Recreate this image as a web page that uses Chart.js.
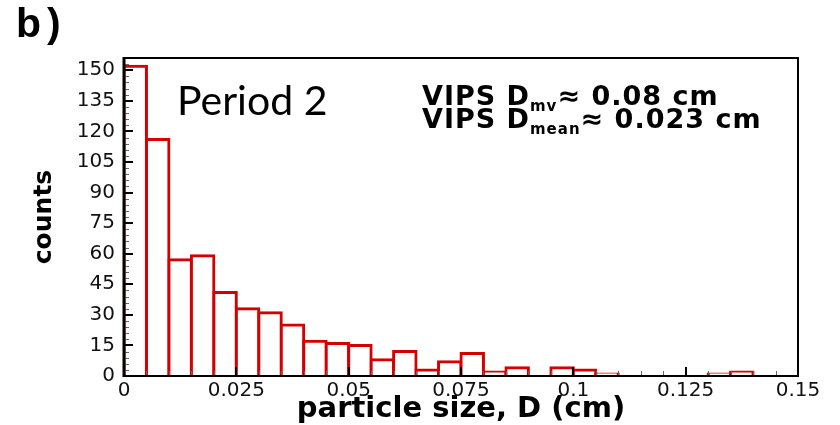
<!DOCTYPE html>
<html>
<head>
<meta charset="utf-8">
<title>Particle size histogram - Period 2</title>
<script src="https://cdn.jsdelivr.net/npm/chart.js@4.4.1/dist/chart.umd.min.js"></script>
<style>
  html, body { margin: 0; padding: 0; background: #fff; }
  #wrap { width: 840px; height: 425px; position: relative; }
</style>
</head>
<body>
<div id="wrap"><canvas id="histChart"></canvas></div>
<script>
// VIPS particle size distribution, period 2 (bins of 0.005 cm)
const binCenters = [0.0025, 0.0075, 0.0125, 0.0175, 0.0225, 0.0275, 0.0325, 0.0375, 0.0425, 0.0475,
                    0.0525, 0.0575, 0.0625, 0.0675, 0.0725, 0.0775, 0.0825, 0.0875, 0.0925, 0.0975,
                    0.1025, 0.1075, 0.1125, 0.1175, 0.1225, 0.1275, 0.1325, 0.1375, 0.1425, 0.1475];
const counts = [152, 116, 57, 59, 41, 33, 31, 25, 17, 16,
                15, 8, 12, 3, 7, 11, 2, 4, 0, 4,
                3, 1, 0, 0, 0, 0, 1, 2, 0, 0];

const xTickValues = [0, 0.025, 0.05, 0.075, 0.1, 0.125, 0.15];
const xTickLabels = ['0', '0.025', '0.05', '0.075', '0.1', '0.125', '0.15'];
const yTickValues = [0, 15, 30, 45, 60, 75, 90, 105, 120, 135, 150];
const yTickLabels = ['0', '15', '30', '45', '60', '75', '90', '105', '120', '135', '150'];

const RED = '#d40000';
const TICK_FONT = { family: 'DejaVu Sans', size: 20 };
const TITLE_FAMILY = 'DejaVu Sans';

// frame, inward tick marks and the text labels on the plot
const framePlugin = {
    id: 'frame',
    afterDatasetsDraw(chart) {
        const { ctx, chartArea: a, scales: { x, y } } = chart;
        ctx.save();

        function seg(x1, y1, x2, y2) {
            ctx.beginPath();
            ctx.moveTo(x1, y1);
            ctx.lineTo(x2, y2);
            ctx.stroke();
        }

        // minor ticks
        ctx.strokeStyle = '#666';
        ctx.lineWidth = 1;
        for (let v = 3; v < y.max; v += 3) {
            if (v % 15 === 0) continue;
            const py = Math.round(y.getPixelForValue(v)) + 0.5;
            seg(a.left, py, a.left + 5, py);
        }
        for (let i = 1; i < 30; i++) {
            if (i % 5 === 0) continue;
            const px = Math.round(x.getPixelForValue(i * 0.005)) + 0.5;
            seg(px, a.bottom, px, a.bottom - 5);
        }

        // major ticks
        ctx.strokeStyle = '#000';
        ctx.lineWidth = 2;
        yTickValues.forEach(v => {
            const py = Math.round(y.getPixelForValue(v));
            seg(a.left, py, a.left + 9, py);
        });
        xTickValues.forEach(v => {
            const px = Math.round(x.getPixelForValue(v));
            seg(px, a.bottom, px, a.bottom - 9);
        });

        // box
        ctx.lineWidth = 2;
        ctx.strokeRect(a.left, a.top, a.right - a.left, a.bottom - a.top);
        ctx.lineWidth = 3;
        seg(a.left, a.top - 1, a.left, a.bottom + 1);
        ctx.restore();
    },
    afterDraw(chart) {
        const { ctx } = chart;
        ctx.save();
        ctx.fillStyle = '#000';
        ctx.textBaseline = 'alphabetic';
        ctx.textAlign = 'left';

        ctx.font = 'bold 41px "Liberation Sans"';
        ctx.letterSpacing = '6px';
        ctx.fillText('b)', 16, 37);

        ctx.letterSpacing = '0px';
        ctx.font = '41px Lato';
        ctx.fillText('Period 2', 177, 115);

        // D with subscript, then the value
        function dLine(sub, value, baseline) {
            let cx = 422;
            ctx.letterSpacing = '1px';
            ctx.font = 'bold 27px "DejaVu Sans"';
            ctx.fillText('VIPS D', cx, baseline);
            cx += ctx.measureText('VIPS D').width;
            ctx.font = 'bold 15px "DejaVu Sans"';
            ctx.fillText(sub, cx, baseline + 6);
            cx += ctx.measureText(sub).width;
            ctx.font = 'bold 27px "DejaVu Sans"';
            ctx.fillText('\u2248 ' + value, cx, baseline);
        }
        dLine('mv', '0.08 cm', 105);
        dLine('mean', '0.023 cm', 128);
        ctx.restore();
    }
};

const ctx = document.getElementById('histChart');
new Chart(ctx, {
    type: 'bar',
    data: {
        datasets: [{
            data: binCenters.map((c, i) => ({ x: c, y: counts[i] })),
            backgroundColor: '#ffffff',
            borderColor: RED,
            borderWidth: { top: 3, left: 3, right: 3, bottom: 0 },
            borderSkipped: 'start',
            // push the outline out so shared edges sit on the bin boundary
            inflateAmount: c => (c.raw && c.raw.y > 0 ? 1.5 : 0),
            categoryPercentage: 1.0,
            barPercentage: 1.0
        }]
    },
    options: {
        responsive: true,
        maintainAspectRatio: false,
        animation: false,
        devicePixelRatio: 1,
        layout: { padding: { top: 58, right: 42, bottom: 0, left: 0 } },
        plugins: {
            legend: { display: false },
            tooltip: { enabled: false }
        },
        scales: {
            x: {
                type: 'linear',
                min: 0,
                max: 0.15,
                offset: false,
                grid: { display: false },
                border: { display: false },
                afterBuildTicks: scale => {
                    scale.ticks = xTickValues.map(v => ({ value: v }));
                },
                afterFit: scale => { scale.height = 49; },
                ticks: {
                    font: TICK_FONT,
                    color: '#111',
                    padding: -5,
                    maxRotation: 0,
                    autoSkip: false,
                    callback: (v, i) => xTickLabels[i]
                },
                title: {
                    display: true,
                    text: 'particle size, D (cm)',
                    color: '#000',
                    font: { family: TITLE_FAMILY, size: 29, weight: 'bold' },
                    padding: { top: 0, bottom: -2 }
                }
            },
            y: {
                min: 0,
                max: 156,
                grid: { display: false },
                border: { display: false },
                afterBuildTicks: scale => {
                    scale.ticks = yTickValues.map(v => ({ value: v }));
                },
                afterFit: scale => { scale.width = 124; },
                ticks: {
                    font: TICK_FONT,
                    color: '#111',
                    padding: 1,
                    autoSkip: false,
                    callback: (v, i) => yTickLabels[i]
                },
                title: {
                    display: true,
                    text: 'counts',
                    color: '#000',
                    font: { family: TITLE_FAMILY, size: 25, weight: 'bold' },
                    padding: { top: 29, bottom: 0 }
                }
            }
        }
    },
    plugins: [framePlugin]
});
</script>
</body>
</html>
